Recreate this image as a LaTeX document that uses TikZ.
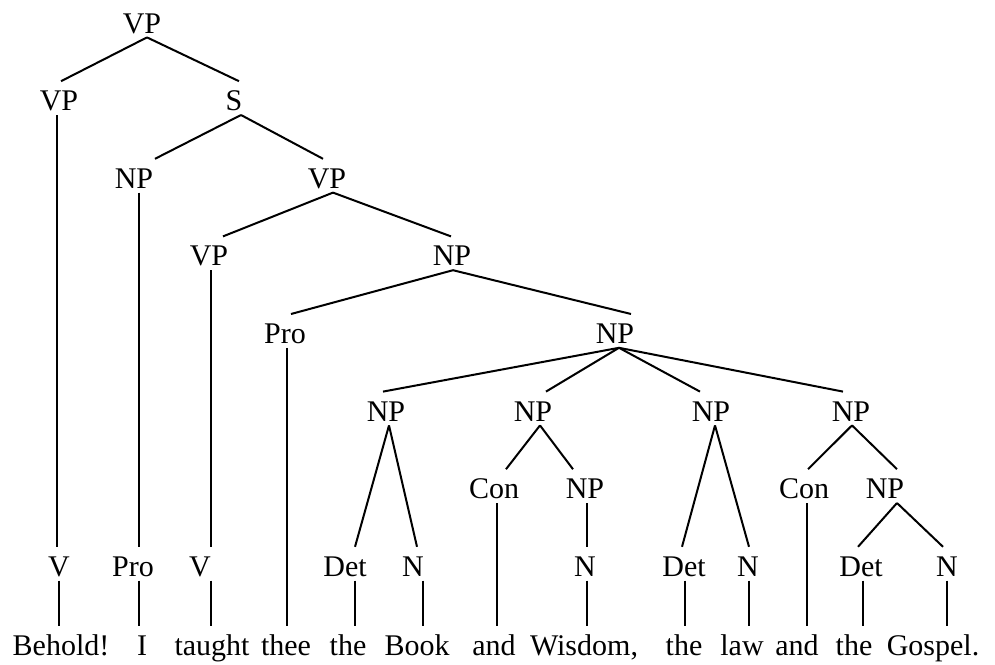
\documentclass[tikz,border=0pt]{standalone}
\usepackage{fontspec}
\setmainfont{Liberation Serif}
\tikzstyle{cat}=[anchor=base, inner xsep=1pt, inner ysep=2pt, text height=12.5pt, text depth=0pt, font=\fontsize{15}{18}\selectfont]
\tikzstyle{word}=[cat]
\tikzstyle{branch}=[line width=1pt]

\begin{document}
\begin{tikzpicture}[x=0.5pt, y=-0.5pt]
				\useasboundingbox (0,0) rectangle (995,664);

				% Upper part of the tree
				\node[cat] (vp0) at (142, 33) {VP};
				\node[cat] (vp1) at (59, 110.6) {VP};
				\node[cat] (s) at (234, 110.6) {S};
				\node[cat] (np1) at (134, 188.2) {NP};
				\node[cat] (vp2) at (327, 188.2) {VP};
				\node[cat] (vp3) at (209, 265.8) {VP};
				\node[cat] (np2) at (452, 265.8) {NP};
				\node[cat] (pro2) at (285, 343.4) {Pro};
				\node[cat] (np3) at (615, 343.4) {NP};

				% The four conjoined noun phrases
				\node[cat] (np4) at (386, 421) {NP};
				\node[cat] (np5) at (533, 421) {NP};
				\node[cat] (np6) at (711, 421) {NP};
				\node[cat] (np7) at (851, 421) {NP};
				\node[cat] (con1) at (494, 498.6) {Con};
				\node[cat] (np8) at (585, 498.6) {NP};
				\node[cat] (con2) at (804, 498.6) {Con};
				\node[cat] (np9) at (885, 498.6) {NP};

				% Preterminals
				\node[cat] (v1) at (59, 576.2) {V};
				\node[cat] (pro1) at (133, 576.2) {Pro};
				\node[cat] (v2) at (200, 576.2) {V};
				\node[cat] (det1) at (345, 576.2) {Det};
				\node[cat] (n1) at (413, 576.2) {N};
				\node[cat] (n2) at (585, 576.2) {N};
				\node[cat] (det2) at (684, 576.2) {Det};
				\node[cat] (n3) at (748, 576.2) {N};
				\node[cat] (det3) at (861, 576.2) {Det};
				\node[cat] (n4) at (947, 576.2) {N};

				% Words
				\node[word] (w1) at (61, 655) {Behold!};
				\node[word] (w2) at (142, 655) {I};
				\node[word] (w3) at (212, 655) {taught};
				\node[word] (w4) at (286, 655) {thee};
				\node[word] (w5) at (348, 655) {the};
				\node[word] (w6) at (417, 655) {Book};
				\node[word] (w7) at (494, 655) {and};
				\node[word] (w8) at (584, 655) {Wisdom,};
				\node[word] (w9) at (684, 655) {the};
				\node[word] (w10) at (742, 655) {law};
				\node[word] (w11) at (797, 655) {and};
				\node[word] (w12) at (854, 655) {the};
				\node[word] (w13) at (933, 655) {Gospel.};

				% branches: parent/child/parent offset/child offset
				\foreach \a/\b/\d/\e in {vp0/vp1/5/2, vp0/s/5/5, s/np1/7/21, s/vp2/7/-4, vp2/vp3/6/14, vp2/np2/6/-1,
					np2/pro2/1/6, np2/np3/1/16, np3/np4/4/-3, np3/np5/4/13, np3/np6/4/-11, np3/np7/4/-8,
					np4/det1/3/10, np4/n1/3/4, np5/con1/7/12, np5/np8/7/-12, np6/det2/4/-2, np6/n3/4/1,
					np7/con2/1/4, np7/np9/1/12, np9/det3/12/-3, np9/n4/12/-4}{
					\draw[branch] ([shift={(\d,0)}]\a.south) -- ([shift={(\e,0)}]\b.north); }

				% vertical lines: upper/lower/offset
				\foreach \a/\b/\d in {vp1/v1/-2, np1/pro1/5, vp3/v2/2, np8/n2/2, v1/w1/0, pro1/w2/6, v2/w3/11,
					pro2/w4/2, det1/w5/10, n1/w6/10, con1/w7/3, n2/w8/2, det2/w9/1, n3/w10/1, con2/w11/3,
					det3/w12/2, n4/w13/0}{
					\draw[branch] ([shift={(\d,0)}]\a.south) -- ([shift={(\d,0)}]\a.south |- \b.north); }
			\end{tikzpicture}
\end{document}
